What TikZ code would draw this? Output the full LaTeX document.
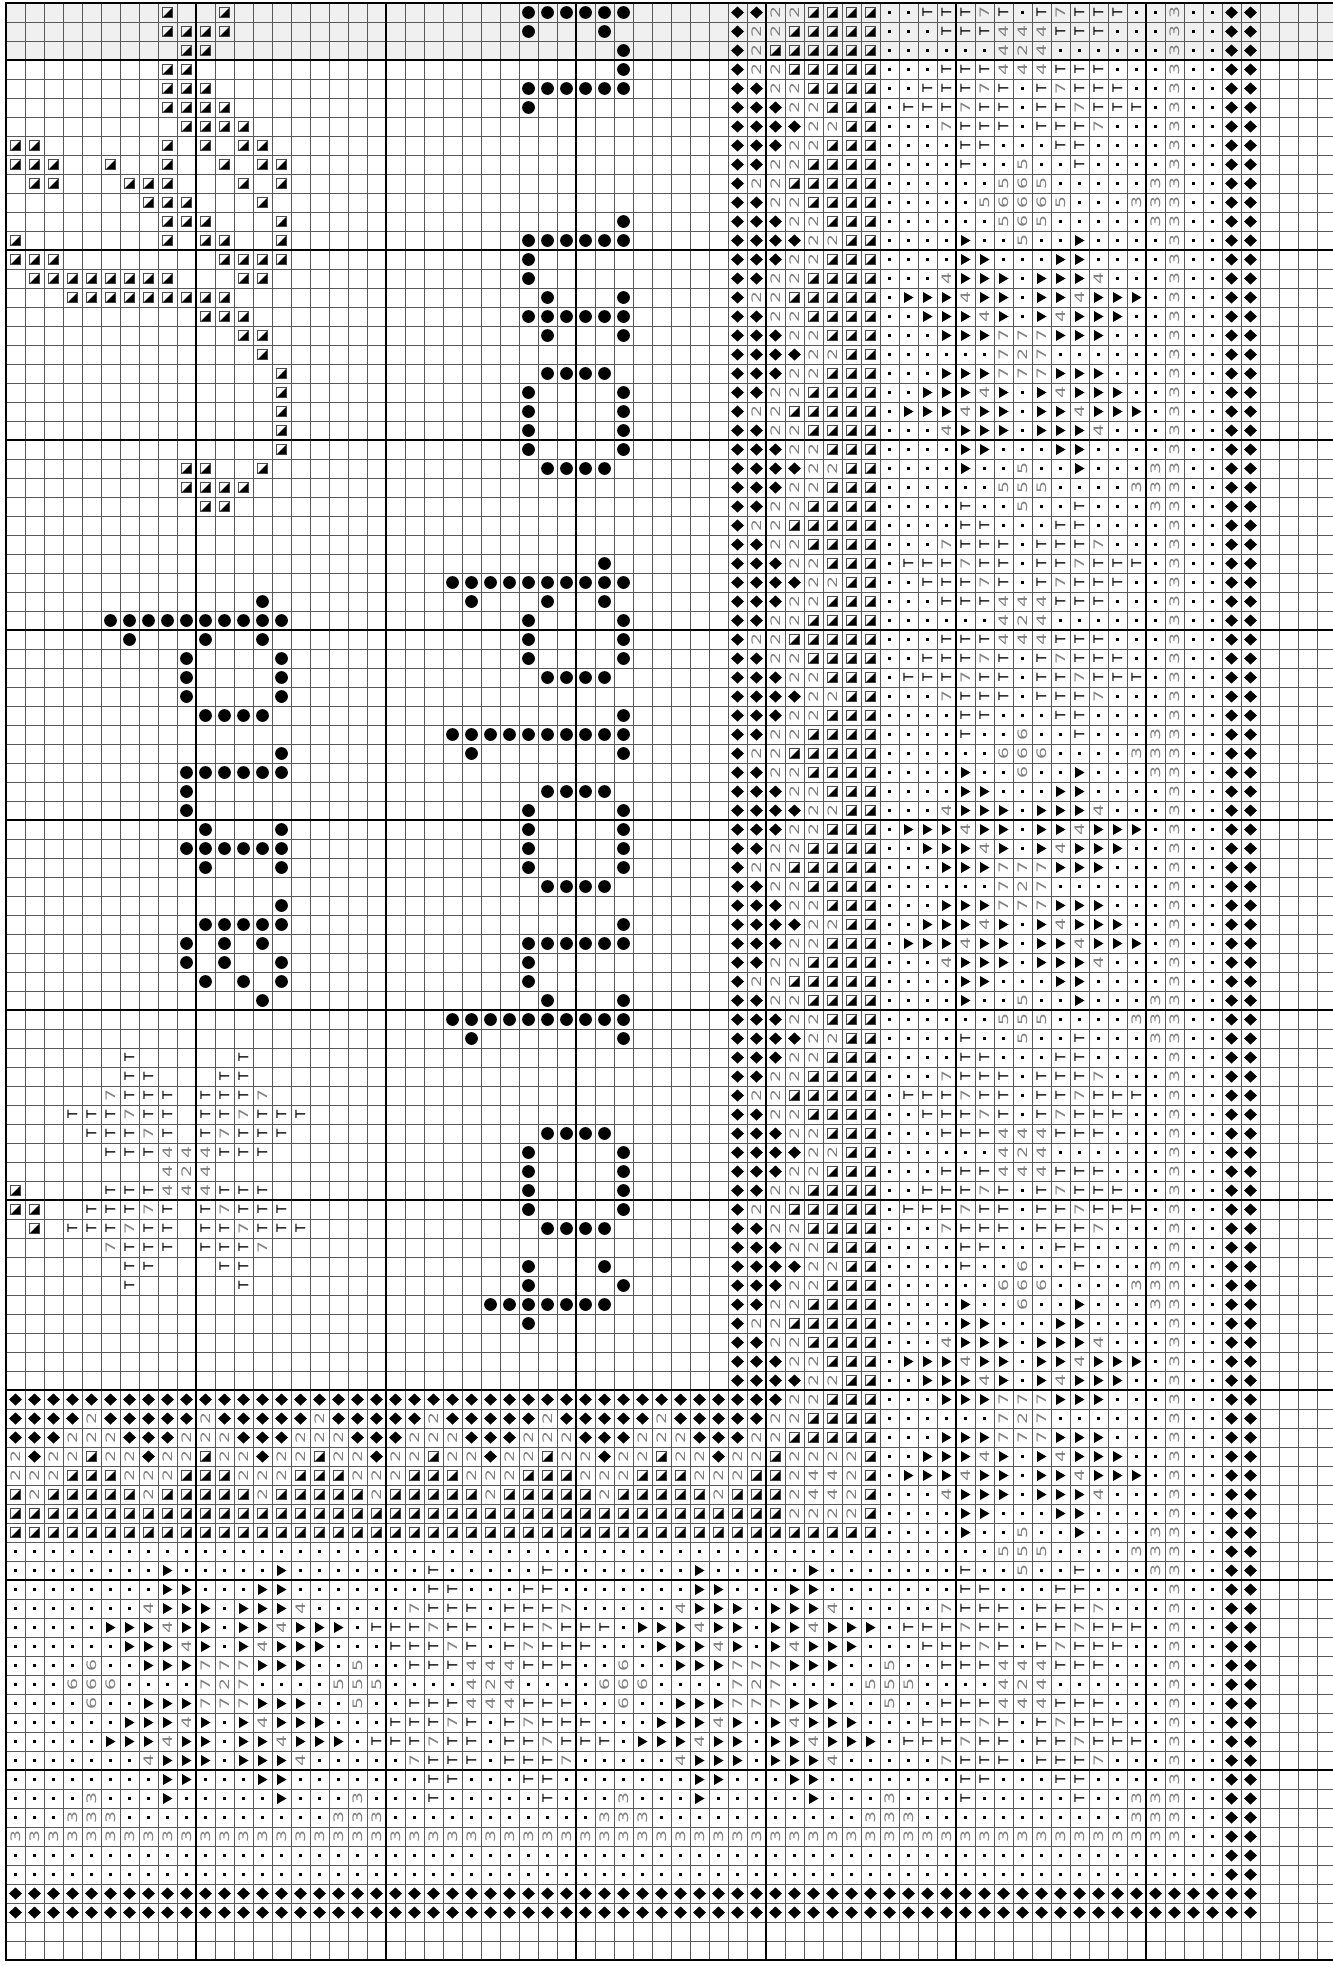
\documentclass[tikz,border=0pt]{standalone}
\usepackage{fontspec}
\setmainfont{DejaVu Sans}
\tikzset{
  numsym/.style={text=black!50, font=\fontsize{13}{13}\selectfont, inner sep=0pt, rotate=90, xscale=1.45},
  tsym/.style={text=black, font=\fontsize{13.5}{13.5}\selectfont, inner sep=0pt, rotate=90},
  thingrid/.style={line width=0.8pt, draw=black!65},
  boldgrid/.style={line width=1.8pt, draw=black, line cap=rect},
}
\newcommand\NumAt[3]{\node[numsym] at ({15.5+19*(#2)},{12.5+19*(#3)}) {#1};}
\expandafter\def\csname sy2\endcsname{\NumAt{2}}
\expandafter\def\csname sy3\endcsname{\NumAt{3}}
\expandafter\def\csname sy4\endcsname{\NumAt{4}}
\expandafter\def\csname sy5\endcsname{\NumAt{5}}
\expandafter\def\csname sy6\endcsname{\NumAt{6}}
\expandafter\def\csname sy7\endcsname{\NumAt{7}}
\expandafter\def\csname syT\endcsname#1#2{\node[tsym] at ({15.5+19*(#1)},{12.5+19*(#2)}) {T};}
\expandafter\def\csname syD\endcsname#1#2{\fill[shift={({15.5+19*(#1)},{12.5+19*(#2)})}] (-6.5,0) -- (0,-6) -- (6.5,0) -- (0,6) -- cycle;}
\expandafter\def\csname syP\endcsname#1#2{\fill[shift={({15.5+19*(#1)},{12.5+19*(#2)})}] (-1.8,-1.8) rectangle (1.8,1.8);}
\expandafter\def\csname syO\endcsname#1#2{\fill[shift={({15.5+19*(#1)},{12.5+19*(#2)})}] (0,0) circle (6.4pt);}
\expandafter\def\csname syR\endcsname#1#2{\fill[shift={({15.5+19*(#1)},{12.5+19*(#2)})}] (-4.5,-5.5) -- (5,0) -- (-4.5,5.5) -- cycle;}
\expandafter\def\csname syH\endcsname#1#2{\draw[black!70,line width=0.9pt,shift={({15.5+19*(#1)},{12.5+19*(#2)})}] (-4.6,-4.6) rectangle (4.6,4.6);\fill[shift={({15.5+19*(#1)},{12.5+19*(#2)})}] (4.6,-4.6) -- (4.6,4.6) -- (-4.6,4.6) -- cycle;}
\newcommand\Put[3]{\ifnum#3<0 \else\expandafter\gdef\csname occ-#2-#3\endcsname{}\csname sy#1\endcsname{#2}{#3}\fi}
\newcommand\Flower[5]{%
  \foreach \zS in {-1,1}{\foreach \zT in {-1,1}{%
    \foreach \zE/\zF in {1/2,1/3,1/4,2/1,2/3,2/4,2/5,3/1,3/2,3/4,3/5,3/6,4/1,4/2,4/3,5/2,5/3,6/3}{%
      \pgfmathtruncatemacro\zR{#1+(\zS)*(\zE)}\pgfmathtruncatemacro\zC{#2+(\zT)*(\zF)}%
      \Put{#3}{\zC}{\zR}}%
    \foreach \zE in {2,3,4}{%
      \pgfmathtruncatemacro\zR{#1+(\zS)*(\zE)}\pgfmathtruncatemacro\zC{#2+(\zT)*(\zE)}%
      \Put{#4}{\zC}{\zR}}}}%
  \foreach \zE/\zF in {0/1,0/-1,1/-1,1/0,1/1,-1/-1,-1/0,-1/1}{%
    \pgfmathtruncatemacro\zR{#1+(\zE)}\pgfmathtruncatemacro\zC{#2+(\zF)}%
    \Put{#5}{\zC}{\zR}}%
  \Put{2}{#2}{#1}}
\newcommand\SDia[3]{%
  \pgfmathtruncatemacro\zA{#1-1}\pgfmathtruncatemacro\zB{#1+1}%
  \pgfmathtruncatemacro\zC{#2-1}\pgfmathtruncatemacro\zD{#2+1}%
  \Put{#3}{#2}{\zA}\Put{#3}{\zC}{#1}\Put{#3}{#2}{#1}\Put{#3}{\zD}{#1}\Put{#3}{#2}{\zB}}
\newcommand\RThree[1]{%
  \pgfmathtruncatemacro\zA{#1-1}\pgfmathtruncatemacro\zB{#1+1}%
  \Put{3}{60}{\zA}\Put{3}{59}{#1}\Put{3}{60}{#1}\Put{3}{60}{\zB}}
\newcommand\BThree[1]{%
  \pgfmathtruncatemacro\zC{#1-1}\pgfmathtruncatemacro\zD{#1+1}%
  \Put{3}{\zC}{95}\Put{3}{#1}{94}\Put{3}{#1}{95}\Put{3}{\zD}{95}}
\newcommand\ZigN[1]{\ifcase#1 \def\zN{4}\or\def\zN{3}\or\def\zN{2}\or\def\zN{1}\or\def\zN{2}\or\def\zN{3}\fi}
\begin{document}
\begin{tikzpicture}[x=1pt,y=-1pt]
\useasboundingbox (0,0) rectangle (1333,1965);
\fill[white] (0,0) rectangle (1333,1965);
\fill[black!6] (6,3) rectangle (1333,60);
% grid
\foreach \k in {1,...,69}{\draw[thingrid] ({6+19*\k},3) -- ({6+19*\k},1960);}
\foreach \k in {1,...,102}{\draw[thingrid] (6,{3+19*\k}) -- (1333,{3+19*\k});}
\foreach \k in {0,10,...,60}{\draw[boldgrid] ({6+19*\k},3) -- ({6+19*\k},1960);}
\foreach \k in {0,3,13,23,33,43,53,63,73,83,93,103}{\draw[boldgrid] (6,{3+19*\k}) -- (1333,{3+19*\k});}
% outer frame lines of the borders
\foreach \ri in {0,...,100}{\Put{D}{64}{\ri}\Put{D}{65}{\ri}}
\foreach \ci in {0,...,63}{\Put{D}{\ci}{99}\Put{D}{\ci}{100}}
\foreach \ri in {0,...,98}{\Put{P}{62}{\ri}\Put{P}{63}{\ri}}
\foreach \ci in {0,...,61}{\Put{P}{\ci}{97}\Put{P}{\ci}{98}}
\foreach \ri in {0,...,96}{\Put{3}{61}{\ri}}
\foreach \ci in {0,...,60}{\Put{3}{\ci}{96}}
% right border motifs
\Flower{2}{53}{T}{7}{4}
\foreach \ri/\ci/\zY in {8/53/5,9/52/5,9/53/6,9/54/5,10/51/5,10/52/6,10/53/6,10/54/6,10/55/5,11/52/5,11/53/6,11/54/5,12/53/5}{\Put{\zY}{\ci}{\ri}}
\RThree{10}
\Flower{18}{53}{R}{4}{7}
\SDia{25}{53}{5}\RThree{25}
\Flower{32}{53}{T}{7}{4}
\SDia{39}{53}{6}\RThree{39}
\Flower{46}{53}{R}{4}{7}
\SDia{53}{53}{5}\RThree{53}
\Flower{60}{53}{T}{7}{4}
\SDia{67}{53}{6}\RThree{67}
\Flower{74}{53}{R}{4}{7}
\SDia{81}{53}{5}\RThree{81}
\Flower{88}{53}{T}{7}{4}
% bottom border motifs
\SDia{88}{4}{6}\BThree{4}
\Flower{88}{11}{R}{4}{7}
\SDia{88}{18}{5}\BThree{18}
\Flower{88}{25}{T}{7}{4}
\SDia{88}{32}{6}\BThree{32}
\Flower{88}{39}{R}{4}{7}
\SDia{88}{46}{5}\BThree{46}
\foreach \ri/\ci in {94/59,94/60,95/59,95/60}{\Put{3}{\ci}{\ri}}
% zigzag bands
\foreach \ri in {3,...,72}{%
  \pgfmathtruncatemacro\zM{mod(\ri,6)}\ZigN{\zM}%
  \pgfmathtruncatemacro\zA{37+\zN}\pgfmathtruncatemacro\zB{38+\zN}\pgfmathtruncatemacro\zC{39+\zN}\pgfmathtruncatemacro\zD{40+\zN}%
  \foreach \ci in {38,...,\zA}{\Put{D}{\ci}{\ri}}%
  \Put{2}{\zB}{\ri}\Put{2}{\zC}{\ri}%
  \foreach \ci in {\zD,...,45}{\Put{H}{\ci}{\ri}}}
\foreach \ci in {0,...,37}{%
  \pgfmathtruncatemacro\zM{mod(\ci+35,6)}\ZigN{\zM}%
  \pgfmathtruncatemacro\zA{72+\zN}\pgfmathtruncatemacro\zB{73+\zN}\pgfmathtruncatemacro\zC{74+\zN}\pgfmathtruncatemacro\zD{75+\zN}%
  \foreach \ri in {73,...,\zA}{\Put{D}{\ci}{\ri}}%
  \Put{2}{\ci}{\zB}\Put{2}{\ci}{\zC}%
  \foreach \ri in {\zD,...,80}{\Put{H}{\ci}{\ri}}}
\foreach \ri/\zRow in {0/{D,D,2,2,H,H,H,H},1/{D,2,2,H,H,H,H,H},2/{D,2,H,H,H,H,H,H},
  73/{D,D,D,2,2,H,H,H},74/{D,D,2,2,H,H,H,H},75/{D,2,2,H,H,H,H,H},76/{2,2,H,2,2,2,2,H},
  77/{2,H,H,2,4,4,2,H},78/{H,H,H,2,4,4,2,H},79/{H,H,H,2,2,2,2,H},80/{H,H,H,H,H,H,H,H}}{%
  \foreach \zY [count=\zK from 38] in \zRow {\Put{\zY}{\zK}{\ri}}}
% background dots
\foreach \ri in {0,...,95}{\foreach \ci in {46,...,60}{\ifcsname occ-\ci-\ri\endcsname\else\csname syP\endcsname{\ci}{\ri}\fi}}
\foreach \ri in {81,...,95}{\foreach \ci in {0,...,45}{\ifcsname occ-\ci-\ri\endcsname\else\csname syP\endcsname{\ci}{\ri}\fi}}
% interior flower
\Flower{61}{9}{T}{7}{4}
% half squares (leaves)
\foreach \ri/\zL in {0/{8,11},1/{8,9,10,11},2/{9,10},3/{8,9},4/{8,9,10},5/{8,9,10,11},6/{9,10,11,12},
  7/{0,1,8,10,12,13},8/{0,1,2,5,8,11,13,14},9/{1,2,6,7,8,12,14},10/{7,8,9,13},11/{8,9,10,14},
  12/{0,8,10,11,14},13/{0,1,2,11,12,13,14},14/{1,2,3,4,5,6,7,8,12,13},15/{3,4,5,6,7,8,9,10,11},
  16/{10,11,12},17/{12,13},18/{13},19/{14},20/{14},21/{14},22/{14},23/{14},24/{9,10,13},
  25/{9,10,11,12},26/{10,11},62/{0},63/{0,1},64/{1}}{%
  \foreach \ci in \zL {\csname syH\endcsname{\ci}{\ri}}}
% big dots (letters)
\foreach \ri/\zL in {0/{27,28,29,30,31,32},1/{27,31},2/{32},3/{32},4/{27,28,29,30,31,32},5/{27},
  11/{32},12/{27,28,29,30,31,32},13/{27},14/{27},15/{28,32},16/{27,28,29,30,31,32},17/{28,32},
  19/{28,29,30,31},20/{27,32},21/{27,32},22/{27,32},23/{27,32},24/{28,29,30,31},29/{31},
  30/{23,24,25,26,27,28,29,30,31,32},31/{13,24,28,31},32/{5,6,7,8,9,10,11,12,13,14,27,32},
  33/{6,10,13,27,32},34/{9,14,27,32},35/{9,14,28,29,30,31},36/{9,14},37/{10,11,12,13,32},
  38/{23,24,25,26,27,28,29,30,31,32},39/{14,24,32},40/{9,10,11,12,13,14},41/{9,28,29,30,31},
  42/{9,27,32},43/{10,14,27,32},44/{9,10,11,12,13,14,27,32},45/{10,14,27,32},46/{28,29,30,31},
  47/{14},48/{10,11,12,13,14,32},49/{9,11,13,27,28,29,30,31,32},50/{9,11,14,27},51/{10,12,14,27},
  52/{13,28,32},53/{23,24,25,26,27,28,29,30,31,32},54/{24,32},59/{28,29,30,31},60/{27,32},
  61/{27,32},62/{27,32},63/{27,32},64/{28,29,30,31},66/{27,31},67/{27,32},
  68/{25,26,27,28,29,30,31},69/{27}}{%
  \foreach \ci in \zL {\csname syO\endcsname{\ci}{\ri}}}
\end{tikzpicture}
\end{document}
